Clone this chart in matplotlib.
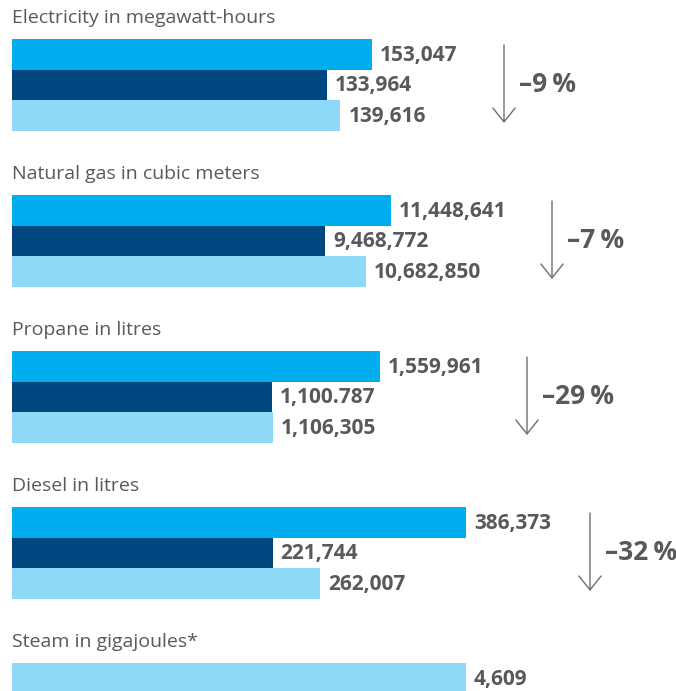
import matplotlib.pyplot as plt
from matplotlib.patches import FancyArrowPatch

plt.rcParams['font.family'] = ['Open Sans', 'DejaVu Sans']

# --- data ---
titles = ['Electricity in megawatt-hours', 'Natural gas in cubic meters',
          'Propane in litres', 'Diesel in litres', 'Steam in gigajoules*']
values = [
    [153047, 133964, 139616],
    [11448641, 9468772, 10682850],
    [1559961, 1100787, 1106305],
    [386373, 221744, 262007],
    [None, None, 4609],
]
value_labels = [
    ['153,047', '133,964', '139,616'],
    ['11,448,641', '9,468,772', '10,682,850'],
    ['1,559,961', '1,100.787', '1,106,305'],
    ['386,373', '221,744', '262,007'],
    ['', '', '4,609'],
]
changes = ['\u20139\u2009%', '\u20137\u2009%', '\u201329\u2009%', '\u201332\u2009%', None]

# --- layout (pixels) ---
W, H = 676, 691
bar_colors = ['#00aeef', '#00467f', '#8ed8f8']
text_color = '#58595b'
left = 12
max_bar_px = [360, 379, 368, 454, 454]   # length of the longest bar in each block
arrow_x = [504, 552, 527, 590]
group_step = 156
first_bar_top = 39
bar_px = 30.5

fig = plt.figure(figsize=(W / 100, H / 100), dpi=100)

for g, title in enumerate(titles):
    top = first_bar_top + g * group_step
    ax_h = 3 * bar_px
    ax = fig.add_axes([left / W, 1 - (top + ax_h) / H, (W - left) / W, ax_h / H])
    vmax = max(v for v in values[g] if v is not None)
    ax.set_xlim(0, vmax * (W - left) / max_bar_px[g])
    ax.set_ylim(2.5, -0.5)
    ax.axis('off')
    row = 0
    for i, v in enumerate(values[g]):
        if v is None:
            continue
        ax.barh(row, v, height=1.0, color=bar_colors[i], linewidth=0)
        ax.annotate(value_labels[g][i], xy=(v, row), xytext=(8, -1), textcoords='offset pixels',
                    va='center', ha='left', fontsize=15, fontweight='bold', color=text_color)
        row += 1

    fig.text(left / W, 1 - (top - 21) / H, title, fontsize=14, color=text_color,
             va='center', ha='left')

    if changes[g] is not None:
        ax_x = arrow_x[g] / W
        fig.add_artist(FancyArrowPatch(
            (ax_x, 1 - (top + 6) / H), (ax_x, 1 - (top + 84) / H),
            transform=fig.transFigure, arrowstyle='->,head_length=0.5,head_width=0.4',
            mutation_scale=20, color='#6d6e70', linewidth=1.0, shrinkA=0, shrinkB=0))
        fig.text((arrow_x[g] + 15) / W, 1 - (top + 45) / H, changes[g], fontsize=19,
                 fontweight='bold', color=text_color, va='center', ha='left')

fig.savefig('out.png', dpi=100)
